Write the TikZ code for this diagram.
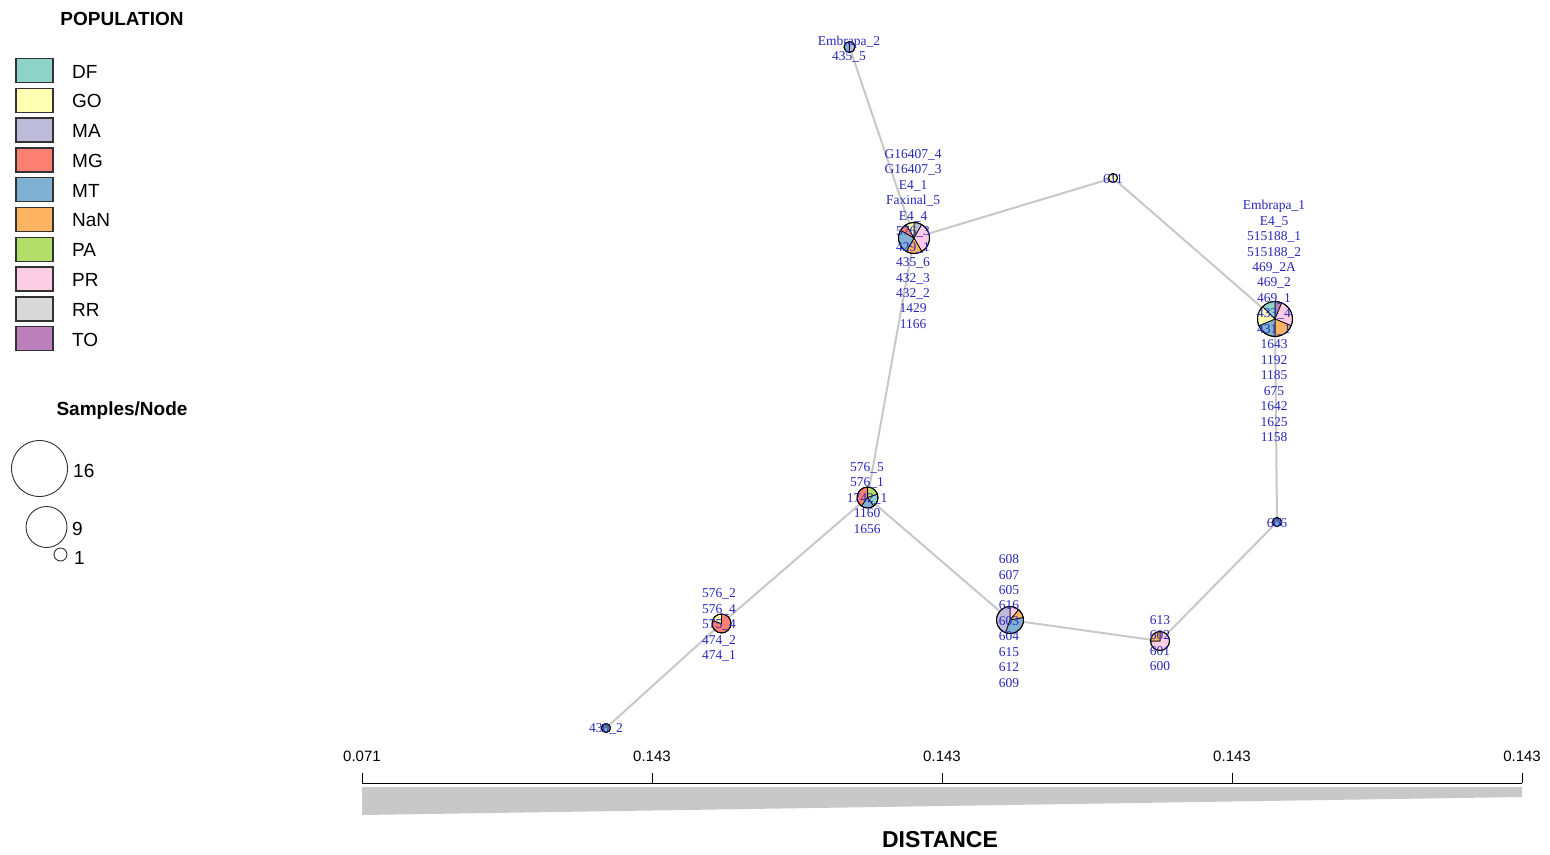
\documentclass[tikz,border=0pt]{standalone}
\usepackage{fontspec}
\setmainfont{Liberation Sans}
\newfontfamily\lblfont{Liberation Serif}
\definecolor{cDF}{HTML}{8DD3C7}
\definecolor{cGO}{HTML}{FFFFB3}
\definecolor{cMA}{HTML}{BEBADA}
\definecolor{cMG}{HTML}{FB8072}
\definecolor{cMT}{HTML}{80B1D3}
\definecolor{cNaN}{HTML}{FDB462}
\definecolor{cPA}{HTML}{B3DE69}
\definecolor{cPR}{HTML}{FCCDE5}
\definecolor{cRR}{HTML}{D9D9D9}
\definecolor{cTO}{HTML}{BC80BD}
\definecolor{lblblue}{RGB}{40,40,185}
\definecolor{edgegray}{RGB}{200,200,200}
\definecolor{darkline}{RGB}{50,50,50}
\newcommand{\drawpie}[4]{%
  \gdef\pieang{90}%
  \foreach \pn/\pc in {#4} {%
    \pgfmathsetmacro\pieend{\pieang-360*\pn/#3}%
    \filldraw[fill=\pc, draw=black, line width=0.7pt] (#1.center) -- ++(\pieang:#2pt) arc[start angle=\pieang, end angle=\pieend, radius=#2pt] -- cycle;%
    \xdef\pieang{\pieend}%
  }%
  \draw[black, line width=1pt] (#1.center) circle[radius=#2pt];%
}
\tikzset{
  lbl/.style={font=\lblfont\fontsize{13.5}{15.45}\selectfont, text=lblblue, align=center, inner sep=0pt},
  pnode/.style={circle, inner sep=0pt, outer sep=0pt},
  edge/.style={draw=edgegray, line width=2pt},
  legbox/.style={draw=darkline, line width=1.5pt, minimum width=37pt, minimum height=24pt, inner sep=0pt},
  legtxt/.style={font=\fontsize{19}{22}\selectfont, anchor=west, inner sep=0pt},
  legtitle/.style={font=\bfseries\fontsize{19}{22}\selectfont, inner sep=0pt},
  sizecirc/.style={draw=darkline, line width=0.9pt},
  ticklbl/.style={font=\fontsize{15}{17}\selectfont, inner sep=0pt}
}
\begin{document}
\begin{tikzpicture}[x=1pt,y=-1pt]
\useasboundingbox[fill=white] (0,0) rectangle (1550,854);

% ---------- legend ----------
\node[legtitle] (poptitle) at (122,19) {POPULATION};
\foreach \c/\t [count=\i from 0] in {cDF/DF,cGO/GO,cMA/MA,cMG/MG,cMT/MT,cNaN/NaN,cPA/PA,cPR/PR,cRR/RR,cTO/TO} {
  \node[legbox, fill=\c] (lb\i) at (34.5,70.5+29.8*\i) {};
  \node[legtxt] (lt\i) at (72,71.5+29.8*\i) {\t};
}
\node[legtitle] (sztitle) at (122,410.5) {Samples/Node};
\node[sizecirc, circle, minimum size=56pt, inner sep=0pt] (s16) at (39.5,468.5) {};
\node[legtxt] (s16t) at (73,471) {16};
\node[sizecirc, circle, minimum size=41pt, inner sep=0pt] (s9) at (46.5,527) {};
\node[legtxt] (s9t) at (72,528.5) {9};
\node[sizecirc, circle, minimum size=13pt, inner sep=0pt] (s1) at (60.5,554.5) {};
\node[legtxt] (s1t) at (74,557.5) {1};

% ---------- network nodes ----------
\node[pnode, minimum size=11pt] (n1) at (849.5,47) {};
\node[pnode, minimum size=31pt] (n2) at (914,238) {};
\node[pnode, minimum size=9pt] (n3) at (1113,178) {};
\node[pnode, minimum size=35pt] (n4) at (1275,319) {};
\node[pnode, minimum size=9pt] (n5) at (1277,522) {};
\node[pnode, minimum size=19pt] (n6) at (1160,641) {};
\node[pnode, minimum size=27pt] (n7) at (1010,620) {};
\node[pnode, minimum size=21pt] (n8) at (867.5,497.5) {};
\node[pnode, minimum size=19pt] (n9) at (721.5,623.5) {};
\node[pnode, minimum size=9pt] (n10) at (606,728) {};

% ---------- edges ----------
\draw[edge] (n1) -- (n2);
\draw[edge] (n2) -- (n3);
\draw[edge] (n3) -- (n4);
\draw[edge] (n4) -- (n5);
\draw[edge] (n5) -- (n6);
\draw[edge] (n6) -- (n7);
\draw[edge] (n7) -- (n8);
\draw[edge] (n8) -- (n2);
\draw[edge] (n8) -- (n9);
\draw[edge] (n9) -- (n10);

% ---------- pies ----------
\drawpie{n1}{5.5}{2}{1/cMA,1/cMT}
\drawpie{n2}{15.5}{12}{1/cMA,4/cPR,2/cNaN,3/cMT,1/cMG,1/cGO}
\drawpie{n3}{4.5}{1}{1/cGO}
\drawpie{n4}{17.5}{16}{1/cTO,4/cPR,3/cNaN,3/cMT,3/cGO,2/cDF}
\drawpie{n5}{4.5}{1}{1/cMT}
\drawpie{n6}{9.5}{4}{3/cPR,1/cNaN}
\drawpie{n7}{13.5}{9}{1/cPR,1/cNaN,3/cMT,4/cMA}
\drawpie{n8}{10.5}{5}{1/cPA,1/cDF,1/cMT,2/cMG}
\drawpie{n9}{9.5}{5}{4/cMG,1/cGO}
\drawpie{n10}{4.5}{1}{1/cMT}

% ---------- labels ----------
\node[lbl] (l1) at (849,49) {Embrapa\_2\\435\_5};
\node[lbl] (l2) at (913,239) {G16407\_4\\G16407\_3\\E4\_1\\Faxinal\_5\\E4\_4\\576\_3\\429\_1\\435\_6\\432\_3\\432\_2\\1429\\1166};
\node[lbl] (l3) at (1113,179) {611};
\node[lbl] (l4) at (1274,321) {Embrapa\_1\\E4\_5\\515188\_1\\515188\_2\\469\_2A\\469\_2\\469\_1\\433\_4\\431\_1\\1643\\1192\\1185\\675\\1642\\1625\\1158};
\node[lbl] (l5) at (1277,523) {606};
\node[lbl] (l6) at (1160,643) {613\\602\\601\\600};
\node[lbl] (l7) at (1009,621) {608\\607\\605\\616\\603\\604\\615\\612\\609};
\node[lbl] (l8) at (867,498) {576\_5\\576\_1\\1742\_1\\1160\\1656};
\node[lbl] (l9) at (719,625) {576\_2\\576\_4\\575\_4\\474\_2\\474\_1};
\node[lbl] (l10) at (606,729) {430\_2};

% ---------- distance scale ----------
\fill[edgegray] (362,787) -- (1522,787) -- (1522,797) -- (362,815) -- cycle;
\coordinate (ax0) at (362,783);
\coordinate (ax1) at (1522,783);
\draw[black, line width=1pt] (ax0) -- (ax1);
\foreach \x/\t in {362/0.071,652/0.143,942/0.143,1232/0.143,1522/0.143} {
  \draw[black, line width=1pt] (\x,783) -- (\x,773);
  \node[ticklbl] at (\x,756) {\t};
}
\node[font=\bfseries\fontsize{23}{26}\selectfont, inner sep=0pt] (dist) at (940,840) {DISTANCE};
\end{tikzpicture}
\end{document}
